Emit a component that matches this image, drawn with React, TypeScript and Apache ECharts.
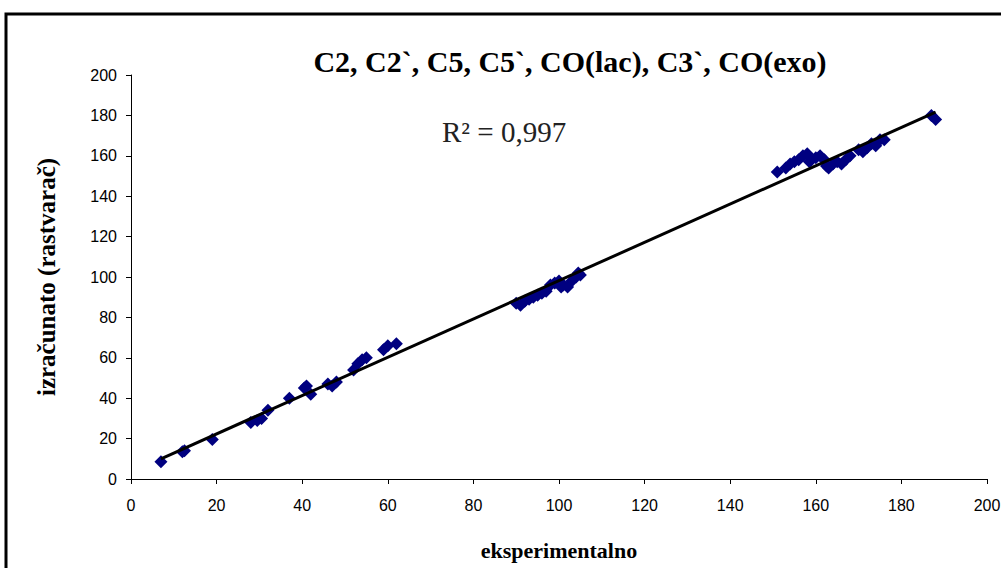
import React, { useEffect, useRef } from "react";
import * as echarts from "echarts";

const titleText = "C2, C2`, C5, C5`, CO(lac), C3`, CO(exo)";
const xAxisName = "eksperimentalno";
const yAxisName = "izračunato (rastvarač)";
const r2Label = "R² = 0,997";

const expValues: number[] = [
  7, 12, 12.5, 19,
  28, 29.5, 30.5, 32, 37, 40.5, 41, 42, 46, 47, 48,
  52, 53, 54, 55, 59, 60, 62,
  90, 91, 92, 93, 94, 95, 96, 97, 98, 99, 100, 100.5, 101, 102, 103, 104, 104.5, 105,
  151, 153, 154, 155, 156, 157, 158, 158.5, 159, 160, 161, 162, 162.5, 163, 164, 165, 166, 167, 168, 170, 171, 172, 173, 174, 175, 176,
  187, 188,
];
const calcValues: number[] = [
  8.5, 13.5, 14, 19.5,
  28, 29, 30, 34, 40, 45, 46, 42, 47, 46, 48,
  54, 57, 59, 60, 64, 66, 67,
  87, 86, 88, 89, 90, 91, 92, 93, 96, 97, 98, 95, 96, 95, 98, 100, 102, 101,
  152, 154, 156, 157, 158, 160, 161, 157, 158, 159, 160, 158, 155, 154, 156, 157, 156, 158, 160, 163, 162, 164, 166, 165, 168, 168,
  180, 178,
];

const axisMin = 0;
const axisMax = 200;
const axisStep = 20;

function regression(xs: number[], ys: number[]) {
  const n = xs.length;
  const mx = xs.reduce((a, b) => a + b, 0) / n;
  const my = ys.reduce((a, b) => a + b, 0) / n;
  let sxy = 0;
  let sxx = 0;
  for (let i = 0; i < n; i++) {
    sxy += (xs[i] - mx) * (ys[i] - my);
    sxx += (xs[i] - mx) * (xs[i] - mx);
  }
  const slope = sxy / sxx;
  return { slope, intercept: my - slope * mx };
}

export default function App() {
  const ref = useRef<HTMLDivElement>(null);
  useEffect(() => {
    if (!ref.current) return;
    const chart = echarts.init(ref.current, undefined, { renderer: "svg" });
    const points = expValues.map((x, i) => [x, calcValues[i]]);
    const { slope, intercept } = regression(expValues, calcValues);
    const xMin = Math.min(...expValues);
    const xMax = Math.max(...expValues);
    const trend = [
      [xMin, slope * xMin + intercept],
      [xMax, slope * xMax + intercept],
    ];
    const axisCommon = {
      type: "value" as const,
      min: axisMin,
      max: axisMax,
      interval: axisStep,
      splitLine: { show: false },
      axisLine: { show: true, lineStyle: { color: "#000", width: 1 } },
      axisTick: { show: true, inside: false, length: 5, lineStyle: { color: "#000" } },
      axisLabel: { color: "#000", fontFamily: "Liberation Sans", fontSize: 16 },
    };
    chart.setOption({
      animation: false,
      backgroundColor: "#fff",
      title: {
        text: titleText,
        left: 565,
        top: 41,
        textAlign: "center",
        textStyle: {
          fontFamily: "Liberation Serif",
          fontWeight: "bold",
          fontSize: 30,
          color: "#000",
        },
      },
      grid: {
        left: 131,
        right: 14,
        top: 75,
        bottom: 89,
        containLabel: false,
        outerBoundsMode: "none",
      },
      xAxis: {
        ...axisCommon,
        name: xAxisName,
        nameLocation: "middle",
        nameGap: 60,
        nameTextStyle: {
          color: "#000",
          fontFamily: "Liberation Serif",
          fontWeight: "bold",
          fontSize: 22,
        },
        axisLabel: { ...axisCommon.axisLabel, margin: 18 },
      },
      yAxis: {
        ...axisCommon,
        name: yAxisName,
        nameLocation: "middle",
        nameGap: 72,
        nameTextStyle: {
          color: "#000",
          fontFamily: "Liberation Serif",
          fontWeight: "bold",
          fontSize: 25,
        },
        axisLabel: { ...axisCommon.axisLabel, margin: 14 },
      },
      graphic: [
        {
          type: "rect",
          shape: { x: 6, y: 14, width: 1010, height: 580 },
          style: { fill: "none", stroke: "#000", lineWidth: 3 },
          silent: true,
        },
        {
          type: "text",
          left: 442,
          top: 117,
          style: {
            text: r2Label,
            fontFamily: "Liberation Serif",
            fontSize: 29,
            fill: "#222",
          },
        },
      ],
      series: [
        {
          type: "scatter",
          data: points,
          symbol: "diamond",
          symbolSize: 13,
          itemStyle: { color: "#000080", opacity: 1 },
          z: 2,
        },
        {
          type: "line",
          data: trend,
          showSymbol: false,
          symbol: "none",
          lineStyle: { color: "#000", width: 3 },
          z: 3,
        },
      ],
    });
    return () => chart.dispose();
  }, []);
  return (
    <div
      ref={ref}
      style={{ position: "fixed", left: 0, top: 0, width: 1001, height: 568 }}
    />
  );
}
